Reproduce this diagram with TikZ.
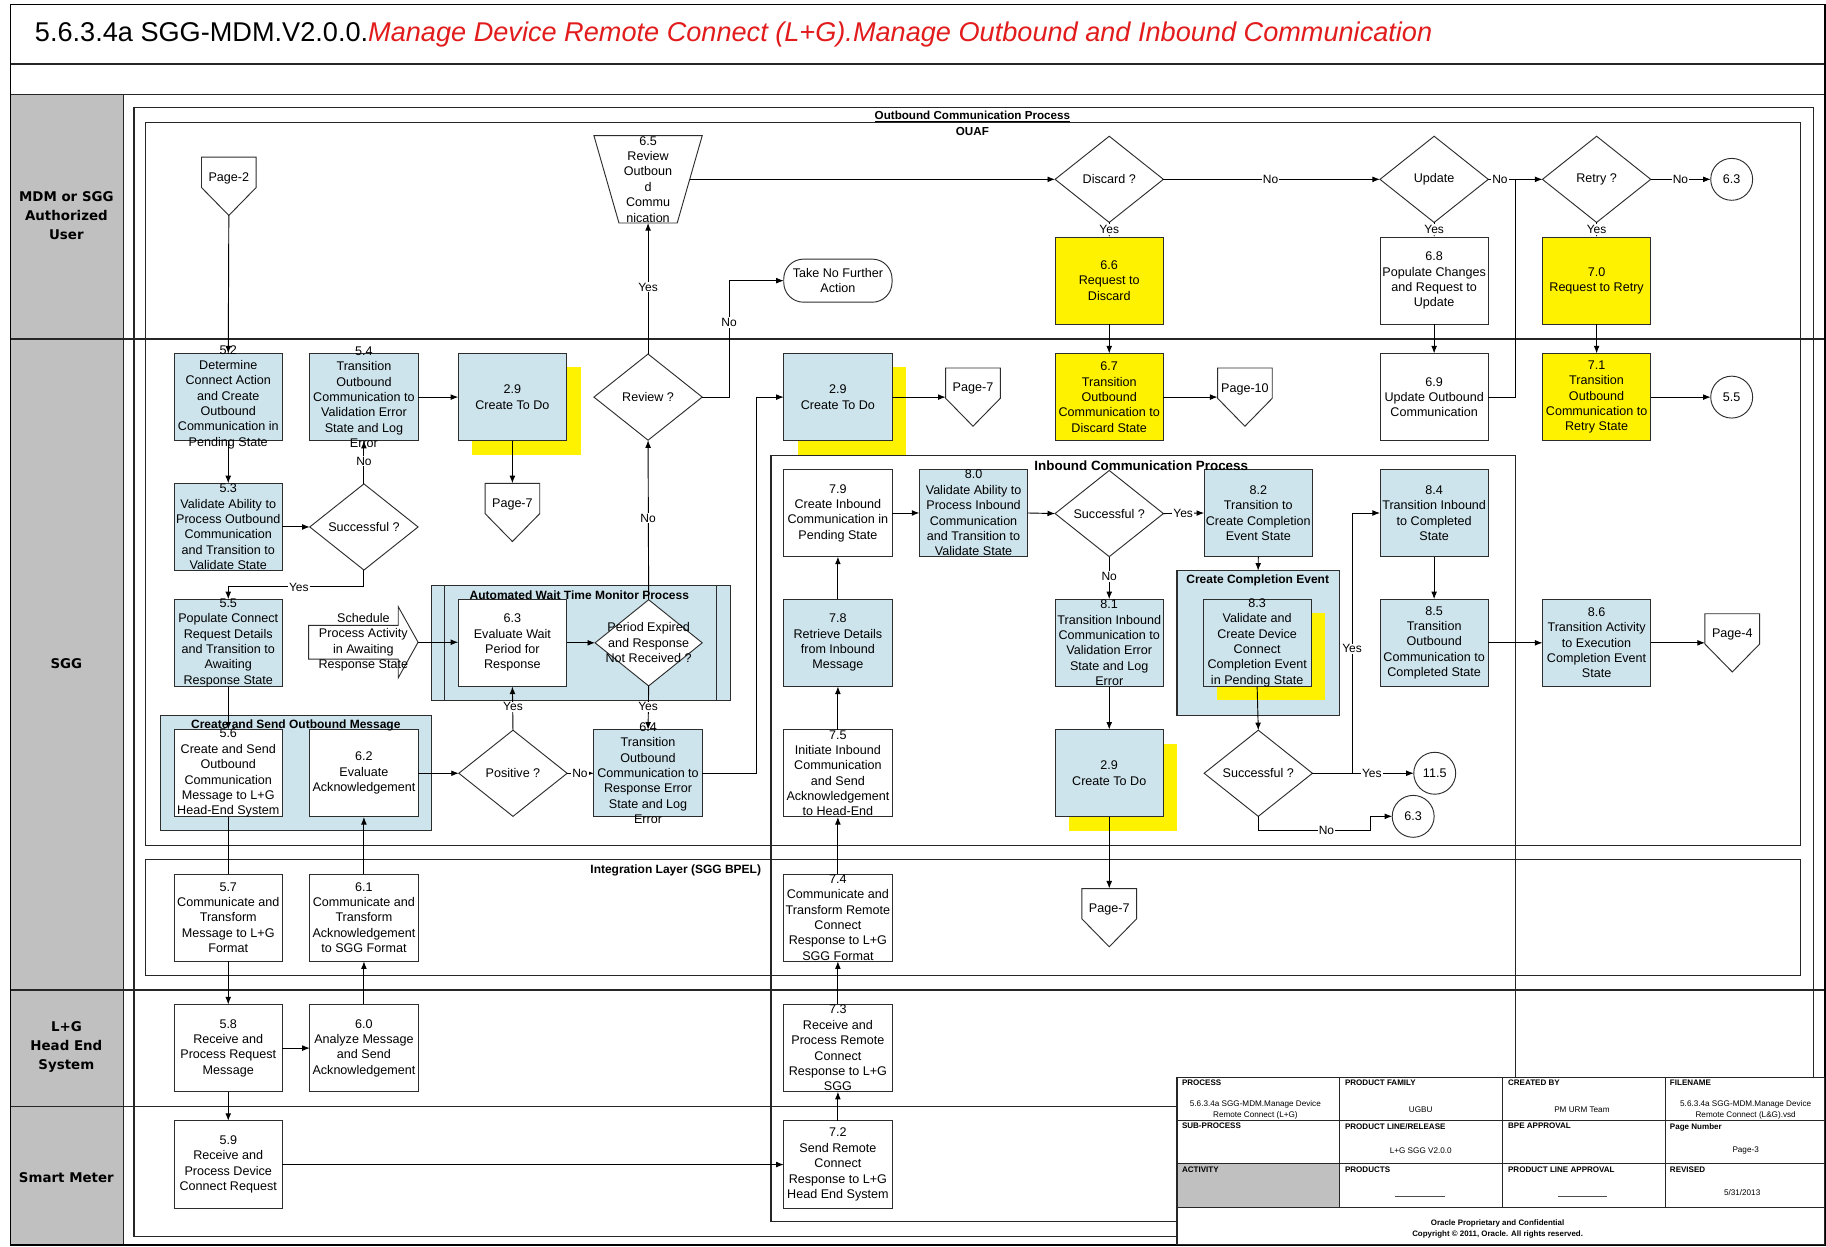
\documentclass[tikz,border=0pt]{standalone}
\usepackage{fontspec}
\setmainfont{Liberation Sans}
\newfontfamily\lanefont{DejaVu Sans}
\usetikzlibrary{shapes.geometric,arrows.meta,calc}
\definecolor{boxblue}{RGB}{206,228,236}
\definecolor{lanegray}{RGB}{192,192,192}
\definecolor{titlered}{RGB}{226,28,28}
\definecolor{edge}{RGB}{45,45,45}
\newcommand\pbox[5]{\node[#1] (#2) at (#3,#4) {};\node[txt] (#2t) at (#2.center) {#5};}
\newcommand\shbox[5]{\node[shadowy] (#2s) at ($(#3,#4)+(12,12)$) {};\node[#1] (#2) at (#3,#4) {};\node[txt] (#2t) at (#2.center) {#5};}
\newcommand\offpg[4]{%
  \node[minimum width=47pt, minimum height=50pt, anchor=north] (#1) at (#2,#3) {};
  \draw[draw=edge, line width=0.8pt, fill=white] (#1.north west) -- (#1.north east) -- ($(#1.north east)+(0,26)$) -- (#1.south) -- ($(#1.north west)+(0,26)$) -- cycle;
  \node[txt] (#1t) at ($(#1.north)+(0,18)$) {#4};}
\begin{document}
\begin{tikzpicture}[x=1pt,y=-1pt,
  every node/.style={inner sep=0pt, outer sep=0pt},
  proc/.style={rectangle, draw=edge, line width=0.8pt, minimum width=93pt, minimum height=75pt},
  pblue/.style={proc, fill=boxblue},
  pwhite/.style={proc, fill=white},
  pyellow/.style={proc, fill=yellow},
  shadowy/.style={rectangle, fill=yellow, minimum width=93pt, minimum height=75pt},
  txt/.style={align=center, font=\fontsize{10.8}{13.2}\selectfont},
  dec/.style={diamond, draw=edge, line width=0.8pt, fill=white, minimum width=93pt, minimum height=74pt},
  conn/.style={draw=black, line width=0.8pt, -{Latex[length=6.5pt,width=5pt]}},
  plain/.style={draw=black, line width=0.8pt},
  yn/.style={fill=white, inner sep=0.8pt, font=\fontsize{10.3}{12}\selectfont},
  grp/.style={rectangle, draw=edge, line width=0.9pt, fill=boxblue, anchor=north west},
  glabel/.style={font=\bfseries\fontsize{10.3}{12}\selectfont},
  conc/.style={circle, draw=edge, line width=0.8pt, fill=white, minimum size=36pt, font=\fontsize{10.8}{13}\selectfont},
  frame/.style={draw=black, line width=1.3pt},
  lane/.style={draw=black!85, line width=1.1pt},
  cont/.style={draw=black!85, line width=1pt},
  lanelbl/.style={align=center, font=\lanefont\bfseries\fontsize{11.5}{16.5}\selectfont},
  tbh/.style={font=\bfseries\fontsize{6.9}{8}\selectfont, anchor=north west},
  tbv/.style={align=center, font=\fontsize{7}{9.6}\selectfont},
]
\useasboundingbox (0,0) rectangle (1568,1070);
\fill[white] (0,0) rectangle (1568,1070);
% ---------- frame, title, lanes ----------
\fill[lanegray] (9,81) rectangle (106,1069);
\draw[lane] (106,81) -- (106,1069);
\draw[lane] (9,55) -- (1567,55);
\draw[lane] (9,81) -- (1567,81);
\draw[lane] (9,291) -- (1567,291);
\draw[lane] (9,850) -- (1567,850);
\draw[lane] (9,950) -- (1567,950);
\draw[frame] (9,4) rectangle (1567,1069);
\node[anchor=west, font=\fontsize{23.3}{27}\selectfont] (title) at (30,30) {5.6.3.4a SGG-MDM.V2.0.0.\textcolor{titlered}{\itshape Manage Device Remote Connect (L+G).Manage Outbound and Inbound Communication}};
\node[lanelbl] (lmdm) at (57,185) {MDM or SGG\\Authorized\\User};
\node[lanelbl] (lsgg) at (57,570) {SGG};
\node[lanelbl] (llg) at (57,899) {L+G\\Head End\\System};
\node[lanelbl] (lsm) at (57,1011) {Smart Meter};
% ---------- containers ----------
\draw[cont] (115,92) rectangle (1557,1062);
\draw[cont] (125,105) rectangle (1546,726);
\draw[cont] (125,738) rectangle (1546,838);
\draw[cont] (662,391) rectangle (1301,1049);
\node[font=\bfseries\fontsize{10}{12}\selectfont] (outl) at (835,100) {\underline{Outbound Communication Process}};
\node[font=\bfseries\fontsize{10}{12}\selectfont] (ouafl) at (835,113) {OUAF};
\node[glabel, anchor=east] (intl) at (653.5,747.7) {Integration Layer (SGG BPEL)};
% ---------- group boxes ----------
\node[grp, minimum width=256.5pt, minimum height=99.3pt] (awg) at (370.5,502.4) {};
\draw[draw=edge, line width=0.9pt] ($(awg.north west)+(11.5,0)$) -- ($(awg.south west)+(11.5,0)$);
\draw[draw=edge, line width=0.9pt] ($(awg.north east)+(-11.5,0)$) -- ($(awg.south east)+(-11.5,0)$);
\node[grp, minimum width=232.5pt, minimum height=99pt] (csg) at (138,614) {};
\node[grp, minimum width=139.3pt, minimum height=124.6pt] (cce) at (1010.7,490) {};
% ---------- MDM lane ----------
\offpg{p2}{196.5}{135}{Page-2}
\node[minimum width=93pt, minimum height=75pt] (n65) at (556.5,154) {};
\draw[draw=edge, line width=0.8pt, fill=white] (n65.north west) -- (n65.north east) -- ($(n65.south east)+(-21.5,0)$) -- ($(n65.south west)+(21.5,0)$) -- cycle;
\node[txt] (n65t) at (n65.center) {6.5\\Review\\Outboun\\d\\Commu\\nication};
\node[dec] (disc) at (952.5,154) {};
\node[txt] (disct) at (disc) {Discard ?};
\node[dec] (upd) at (1231.5,154) {};
\node[txt] (updt) at (upd) {Update};
\node[dec] (retry) at (1371,154) {};
\node[txt] (retryt) at (retry) {Retry ?};
\node[conc] (c63) at (1487,154) {6.3};
\pbox{pyellow}{n66}{952.5}{241}{6.6\\Request to\\Discard}
\pbox{pwhite}{n68}{1231.5}{241}{6.8\\Populate Changes\\and Request to\\Update}
\pbox{pyellow}{n70}{1371}{241}{7.0\\Request to Retry}
\node[rectangle, draw=edge, line width=0.8pt, fill=white, rounded corners=17pt, minimum width=93pt, minimum height=37pt, txt] (tnfa) at (719.5,241) {Take No Further\\Action};
% ---------- SGG lane row 1 ----------
\pbox{pblue}{n52}{196}{341}{5.2\\Determine\\Connect Action\\and Create\\Outbound\\Communication in\\Pending State}
\pbox{pblue}{n54}{312.5}{341}{5.4\\Transition\\Outbound\\Communication to\\Validation Error\\State and Log\\Error}
\shbox{pblue}{n29a}{440}{341}{2.9\\Create To Do}
\node[dec] (rev) at (556.5,341) {};
\node[txt] (revt) at (rev) {Review ?};
\shbox{pblue}{n29b}{719.5}{341}{2.9\\Create To Do}
\offpg{p7b}{835.5}{316}{Page-7}
\pbox{pyellow}{n67}{952.5}{341}{6.7\\Transition\\Outbound\\Communication to\\Discard State}
\offpg{p10}{1069}{316}{Page-10}
\pbox{pwhite}{n69}{1231.5}{341}{6.9\\Update Outbound\\Communication}
\pbox{pyellow}{n71}{1371}{341}{7.1\\Transition\\Outbound\\Communication to\\Retry State}
\node[conc] (c55) at (1487,341) {5.5};
% ---------- row 2 ----------
\pbox{pblue}{n53}{196}{452.5}{5.3\\Validate Ability to\\Process Outbound\\Communication\\and Transition to\\Validate State}
\node[dec] (sa) at (312.5,452.5) {};
\node[txt] (sat) at (sa) {Successful ?};
\offpg{p7a}{440}{415}{Page-7}
\pbox{pwhite}{n79}{719.5}{440.5}{7.9\\Create Inbound\\Communication in\\Pending State}
\pbox{pblue}{n80}{836}{440.5}{8.0\\Validate Ability to\\Process Inbound\\Communication\\and Transition to\\Validate State}
\node[dec] (sb) at (952.5,441) {};
\node[txt] (sbt) at (sb) {Successful ?};
\pbox{pblue}{n82}{1080.5}{440.5}{8.2\\Transition to\\Create Completion\\Event State}
\pbox{pblue}{n84}{1231.5}{440.5}{8.4\\Transition Inbound\\to Completed\\State}
% ---------- row 3 ----------
\pbox{pblue}{n55}{196}{552}{5.5\\Populate Connect\\Request Details\\and Transition to\\Awaiting\\Response State}
\node[minimum width=94pt, minimum height=61pt] (sched) at (312,551.5) {};
\draw[draw=edge, line width=0.8pt, fill=white] ($(sched.west)+(0,-14.5)$) -- ($(sched.east)+(-17,-14.5)$) -- ($(sched.north east)+(-17,0)$) -- (sched.east) -- ($(sched.south east)+(-17,0)$) -- ($(sched.east)+(-17,14.5)$) -- ($(sched.west)+(0,14.5)$) -- cycle;
\node[txt] (schedt) at (sched.center) {Schedule\\Process Activity\\in Awaiting\\Response State};
\pbox{pwhite}{n63}{440}{552}{6.3\\Evaluate Wait\\Period for\\Response}
\node[dec, minimum width=92pt] (per) at (557,552) {};
\node[txt] (pert) at (per) {Period Expired\\and Response\\Not Received ?};
\pbox{pblue}{n78}{719.5}{552}{7.8\\Retrieve Details\\from Inbound\\Message}
\pbox{pblue}{n81}{952.5}{552}{8.1\\Transition Inbound\\Communication to\\Validation Error\\State and Log\\Error}
\shbox{pblue}{n83}{1079.5}{552}{8.3\\Validate and\\Create Device\\Connect\\Completion Event\\in Pending State}
\pbox{pblue}{n85}{1231.5}{552}{8.5\\Transition\\Outbound\\Communication to\\Completed State}
\pbox{pblue}{n86}{1371}{552}{8.6\\Transition Activity\\to Execution\\Completion Event\\State}
\offpg{p4}{1487.5}{527}{Page-4}
% ---------- row 4 ----------
\pbox{pwhite}{n56}{196}{664}{5.6\\Create and Send\\Outbound\\Communication\\Message to L+G\\Head-End System}
\pbox{pwhite}{n62}{312.5}{664}{6.2\\Evaluate\\Acknowledgement}
\node[dec] (pos) at (440.5,664) {};
\node[txt] (post) at (pos) {Positive ?};
\pbox{pblue}{n64}{556.5}{664}{6.4\\Transition\\Outbound\\Communication to\\Response Error\\State and Log\\Error}
\pbox{pwhite}{n75}{719.5}{664}{7.5\\Initiate Inbound\\Communication\\and Send\\Acknowledgement\\to Head-End}
\shbox{pblue}{n29c}{952.5}{664}{2.9\\Create To Do}
\node[dec] (sc) at (1080.5,664) {};
\node[txt] (sct) at (sc) {Successful ?};
\node[conc] (c115) at (1232,664) {11.5};
\node[conc] (c63b) at (1213.5,701) {6.3};
% ---------- integration ----------
\pbox{pwhite}{n57}{196}{788}{5.7\\Communicate and\\Transform\\Message to L+G\\Format}
\pbox{pwhite}{n61}{312.5}{788}{6.1\\Communicate and\\Transform\\Acknowledgement\\to SGG Format}
\pbox{pwhite}{n74}{719.5}{788}{7.4\\Communicate and\\Transform Remote\\Connect\\Response to L+G\\SGG Format}
\offpg{p7c}{952.5}{763}{Page-7}
% ---------- L+G and meter ----------
\pbox{pwhite}{n58}{196}{900}{5.8\\Receive and\\Process Request\\Message}
\pbox{pwhite}{n60}{312.5}{900}{6.0\\Analyze Message\\and Send\\Acknowledgement}
\pbox{pwhite}{n73}{719.5}{900}{7.3\\Receive and\\Process Remote\\Connect\\Response to L+G\\SGG}
\pbox{pwhite}{n59}{196}{1000}{5.9\\Receive and\\Process Device\\Connect Request}
\pbox{pwhite}{n72}{719.5}{1000}{7.2\\Send Remote\\Connect\\Response to L+G\\Head End System}
% ---------- connectors ----------
\draw[conn] (p2.south) -- (n52.north);
\draw[conn] (n52.south) -- (n53.north);
\draw[conn] (n53.east) -- (sa.west);
\draw[conn] (sa.north) -- (n54.south);
\draw[conn] (sa.south) -- ++(0,14.5) -| (n55.north);
\draw[conn] (n54.east) -- (n29a.west);
\draw[conn] (n29a.south) -- (p7a.north);
\draw[conn] (n55.south) -- (n56.north);
\draw[plain] (n56.south) -- (n57.north);
\draw[conn] (n57.south) -- (n58.north);
\draw[conn] (n58.south) -- (n59.north);
\draw[conn] (n58.east) -- (n60.west);
\draw[conn] (n60.north) -- (n61.south);
\draw[conn] (n61.north) -- (n62.south);
\draw[conn] (n62.east) -- (pos.west);
\draw[conn] (pos.north) -- (n63.south);
\draw[conn] (pos.east) -- (n64.west);
\draw[conn] (sched.east) -- (sched.east -| n63.west);
\draw[conn] (n63.east) -- (per.west);
\draw[conn] (per.south) -- (n64.north);
\draw[conn] (per.north) -- (rev.south);
\draw[conn] (rev.north) -- (n65.south);
\draw[conn] (rev.east) -- ++(23,0) |- (tnfa.west);
\draw[conn] ($(n65.east)+(-10.5,0)$) -- (disc.west);
\draw[conn] (disc.east) -- (upd.west);
\draw[conn] (disc.south) -- (n66.north);
\draw[conn] (upd.east) -- (retry.west);
\draw[conn] (upd.south) -- (n68.north);
\draw[conn] (retry.east) -- (c63.west);
\draw[conn] (retry.south) -- (n70.north);
\draw[conn] (n66.south) -- (n67.north);
\draw[conn] (n67.east) -- (p10.west);
\draw[conn] (n68.south) -- (n69.north);
\draw[plain] (n69.east) -| ($(upd.east)!0.5!(retry.west)$);
\draw[conn] (n70.south) -- (n71.north);
\draw[conn] (n71.east) -- (c55.west);
\draw[conn] (n64.east) -- ++(46.5,0) |- (n29b.west);
\draw[conn] (n29b.east) -- (p7b.west);
\draw[conn] (n59.east) -- (n72.west);
\draw[conn] (n72.north) -- (n73.south);
\draw[conn] (n73.north) -- (n74.south);
\draw[conn] (n74.north) -- (n75.south);
\draw[conn] (n75.north) -- (n78.south);
\draw[conn] (n78.north) -- (n79.south);
\draw[conn] (n79.east) -- (n80.west);
\draw[conn] (n80.east) -- (sb.west);
\draw[conn] (sb.east) -- (n82.west);
\draw[conn] (sb.south) -- (n81.north);
\draw[conn] (n81.south) -- (n29c.north);
\draw[conn] (n29c.south) -- (p7c.north);
\draw[conn] (n82.south) -- (cce.north);
\draw[conn] (n83.south) -- (sc.north);
\draw[conn] (sc.east) -- (c115.west);
\draw[conn] (sc.east) -- ++(34.5,0) |- (n84.west);
\draw[conn] (sc.south) |- ($(c63b.west)+(-18.5,12)$) |- (c63b.west);
\draw[conn] (n84.south) -- (n85.north);
\draw[conn] (n85.east) -- (n86.west);
\draw[conn] (n86.east) -- (p4.west);
% ---------- connector labels ----------
\node[yn] (l1) at (312.5,396) {No};
\node[yn] (l2) at (256.6,504) {Yes};
\node[yn] (l3) at (440.5,607) {Yes};
\node[yn] (l4) at (498,664) {No};
\node[yn] (l5) at (556.5,607) {Yes};
\node[yn] (l6) at (556.5,445) {No};
\node[yn] (l7) at (556.5,246.5) {Yes};
\node[yn] (l8) at (626,277) {No};
\node[yn] (l9) at (952.5,197) {Yes};
\node[yn] (l10) at (1091,154) {No};
\node[yn] (l11) at (1231.5,197) {Yes};
\node[yn] (l12) at (1288,154) {No};
\node[yn] (l13) at (1371,197) {Yes};
\node[yn] (l14) at (1443,154) {No};
\node[yn] (l15) at (1016,440.5) {Yes};
\node[yn] (l16) at (952.5,495) {No};
\node[yn] (l17) at (1161,557) {Yes};
\node[yn] (l18) at (1178,664) {Yes};
\node[yn] (l19) at (1139,713) {No};
% ---------- group labels ----------
\node[glabel] (awgl) at (497.5,511) {Automated Wait Time Monitor Process};
\node[glabel] (csgl) at (254,622.6) {Create and Send Outbound Message};
\node[glabel] (ccel) at (1080,498.7) {Create Completion Event};
\node[font=\bfseries\fontsize{11.5}{13}\selectfont] (inbl) at (980,400) {Inbound Communication Process};
% ---------- title block ----------
\fill[white] (1010.7,925) rectangle (1567,1069);
\fill[lanegray] (1010.7,999.5) rectangle (1150,1037);
\draw[draw=black!85, line width=0.9pt] (1010.7,925) rectangle (1567,1069);
\draw[draw=black!85, line width=0.9pt] (1010.7,962) -- (1567,962) (1010.7,999.5) -- (1567,999.5) (1010.7,1037) -- (1567,1037);
\draw[draw=black!85, line width=0.9pt] (1150,925) -- (1150,1037) (1290.5,925) -- (1290.5,1037) (1430,925) -- (1430,1037);
\node[tbh] (th1) at (1015,927.5) {PROCESS};
\node[tbh] (th2) at (1155,927.5) {PRODUCT FAMILY};
\node[tbh] (th3) at (1295,927.5) {CREATED BY};
\node[tbh] (th4) at (1434,927.5) {FILENAME};
\node[tbh] (th5) at (1015,964.5) {SUB-PROCESS};
\node[tbh] (th6) at (1155,964.5) {PRODUCT LINE/RELEASE};
\node[tbh] (th7) at (1295,964.5) {BPE APPROVAL};
\node[tbh] (th8) at (1434,964.5) {Page Number};
\node[tbh] (th9) at (1015,1002) {ACTIVITY};
\node[tbh] (th10) at (1155,1002) {PRODUCTS};
\node[tbh] (th11) at (1295,1002) {PRODUCT LINE APPROVAL};
\node[tbh] (th12) at (1434,1002) {REVISED};
\node[tbv] (tv1) at (1078,952.8) {5.6.3.4a SGG-MDM.Manage Device\\Remote Connect (L+G)};
\node[tbv] (tv2) at (1220,952.6) {UGBU};
\node[tbv] (tv3) at (1358.4,952.6) {PM URM Team};
\node[tbv] (tv4) at (1499,952.8) {5.6.3.4a SGG-MDM.Manage Device\\Remote Connect (L\&G).vsd};
\node[tbv] (tv5) at (1220,988) {L+G SGG V2.0.0};
\node[tbv] (tv6) at (1499,988) {Page-3};
\node[tbv] (tv7) at (1496,1024) {5/31/2013};
\draw[draw=black!70, line width=0.6pt] (1198,1027) -- (1240.5,1027);
\draw[draw=black!70, line width=0.6pt] (1338,1027) -- (1380,1027);
\node[align=center, font=\bfseries\fontsize{6.8}{9.3}\selectfont] (foot) at (1286,1055) {Oracle Proprietary and Confidential\\Copyright \textcopyright\ 2011, Oracle. All rights reserved.};
\end{tikzpicture}
\end{document}
